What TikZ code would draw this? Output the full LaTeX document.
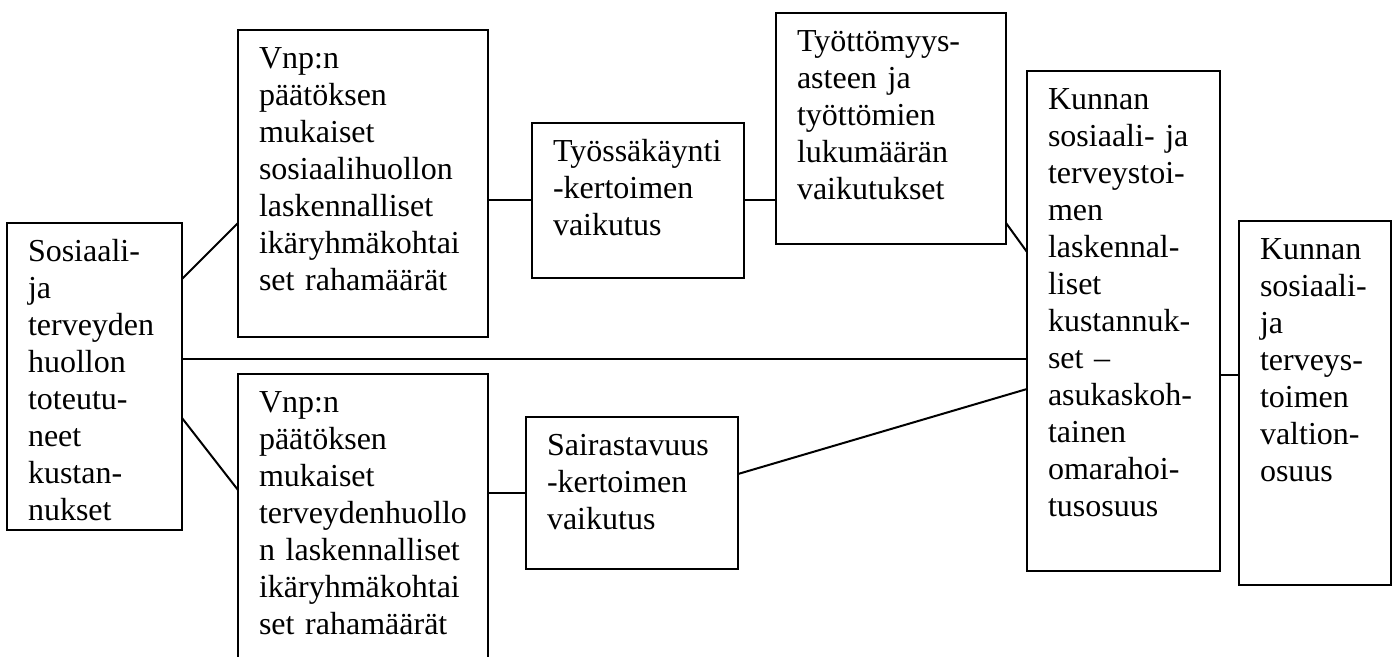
\documentclass[tikz,border=0pt]{standalone}
\usepackage{fontspec}
\setmainfont{Liberation Serif}

\begin{document}
\begin{tikzpicture}[x=0.5pt, y=-0.5pt,
    laatikko/.style={draw, line width=1pt, anchor=north west, align=left,
        inner xsep=10.5pt, inner ysep=0pt, outer sep=0pt, text height=19.25pt,
        font=\fontsize{16}{18.5}\selectfont},
    viiva/.style={line width=1pt}]
    \useasboundingbox (0,0) rectangle (1397,657);
    \clip (0,0) rectangle (1397,657);

    \node[laatikko, text width=66.5pt, text depth=134.25pt] (sote) at (7,223) {Sosiaali-\\ja\\terveyden\\huollon\\toteutu-\\neet\\kustan-\\nukset};
    \node[laatikko, text width=104pt, text depth=134.25pt] (sosvnp) at (238,30) {Vnp:n\\päätöksen\\mukaiset\\sosiaalihuollon\\laskennalliset\\ikäryhmäkohtai\\set rahamäärät};
    \node[laatikko, text width=104pt, text depth=134.25pt] (tervvnp) at (238,374) {Vnp:n\\päätöksen\\mukaiset\\terveydenhuollo\\n laskennalliset\\ikäryhmäkohtai\\set rahamäärät};
    \node[laatikko, text width=85pt, text depth=58.25pt] (tyossa) at (532,123) {Työssäkäynti\\-kertoimen\\vaikutus};
    \node[laatikko, text width=94pt, text depth=96.25pt] (tyott) at (776,13) {Työttömyys-\\asteen ja\\työttömien\\lukumäärän\\vaikutukset};
    \node[laatikko, text width=85pt, text depth=56.75pt] (sairas) at (526,417) {Sairastavuus\\-kertoimen\\vaikutus};
    \node[laatikko, text width=75.5pt, text depth=230.75pt] (omarah) at (1027,71) {Kunnan\\sosiaali- ja\\terveystoi-\\men\\laskennal-\\liset\\kustannuk-\\set –\\asukaskoh-\\tainen\\omarahoi-\\tusosuus};
    \node[laatikko, text width=55pt, text depth=162.75pt] (valtos) at (1239,221) {Kunnan\\sosiaali-\\ja\\terveys-\\toimen\\valtion-\\osuus};

    \coordinate (kesk) at ([yshift=8.75pt]sote.east);
    \coordinate (osuus) at ([yshift=-27pt]omarah.east);

    \draw[viiva] ([yshift=48.75pt]sote.east) -- ([yshift=-19.75pt]sosvnp.west);
    \draw[viiva] ([yshift=-20.75pt]sote.east) -- ([yshift=18.75pt]tervvnp.west);
    \draw[viiva] (kesk) -- (kesk -| omarah.west);
    \draw[viiva] (tyossa.west -| sosvnp.east) -- (tyossa.west);
    \draw[viiva] (tyossa.east) -- (tyossa.east -| tyott.west);
    \draw[viiva] ([yshift=10.5pt]tyott.south east) -- ([yshift=-90.5pt]omarah.north west);
    \draw[viiva] (sairas.west -| tervvnp.east) -- (sairas.west);
    \draw[viiva] ([yshift=9.5pt]sairas.east) -- ([yshift=-34pt]omarah.west);
    \draw[viiva] (osuus) -- (osuus -| valtos.west);
\end{tikzpicture}
\end{document}
